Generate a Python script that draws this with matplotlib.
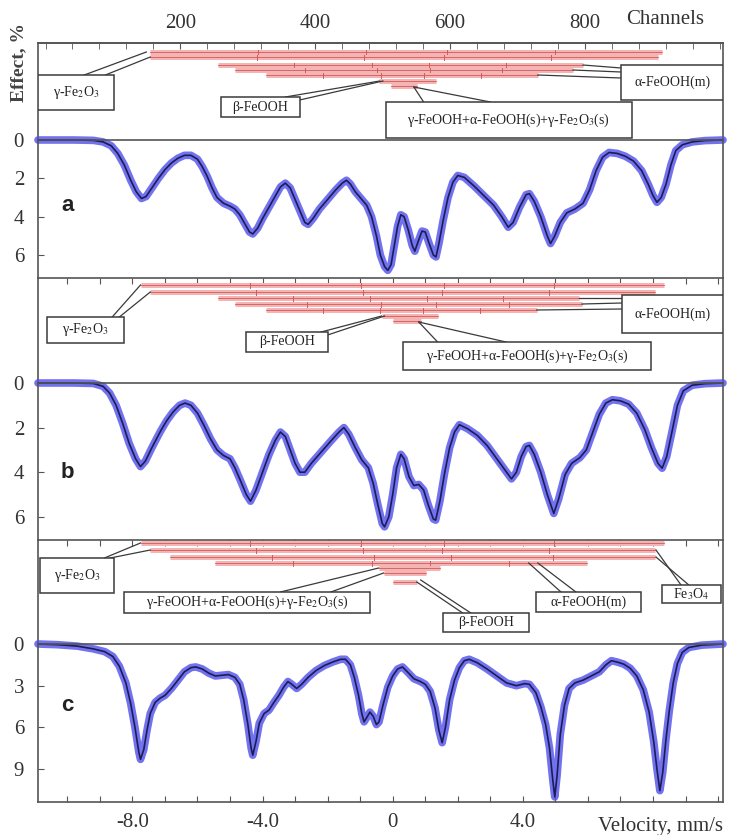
import matplotlib
matplotlib.use('Agg')
import matplotlib.pyplot as plt
from matplotlib.patches import Rectangle

plt.rcParams['font.family'] = ['Liberation Serif', 'DejaVu Serif']
plt.rcParams['mathtext.fontset'] = 'stix'

W_PX, H_PX = 732, 835
V_MIN, V_MAX = -10.9, 10.15

# spectrum a: velocity (mm/s) / effect (%)
vel_a = [-10.9, -9.8, -9.2, -8.9, -8.65, -8.45, -8.25, -8.05, -7.88, -7.72, -7.58, -7.42,
         -7.2, -7.0, -6.8, -6.6, -6.4, -6.2, -6.0, -5.85, -5.7, -5.55, -5.4, -5.2, -5.0,
         -4.85, -4.7, -4.55, -4.4, -4.3, -4.15, -4.0, -3.8, -3.6, -3.45, -3.3, -3.15, -3.0,
         -2.85, -2.7, -2.6, -2.45, -2.25, -2.0, -1.75, -1.55, -1.42, -1.3, -1.15, -0.95,
         -0.8, -0.65, -0.5, -0.38, -0.25, -0.15, -0.05, 0.05, 0.15, 0.25, 0.35, 0.48, 0.6,
         0.68, 0.78, 0.9, 1.0, 1.12, 1.25, 1.33, 1.42, 1.55, 1.7, 1.85, 2.0, 2.2, 2.5, 2.8,
         3.1, 3.35, 3.55, 3.7, 3.9, 4.1, 4.2, 4.35, 4.55, 4.75, 4.85, 4.98, 5.15, 5.35, 5.6,
         5.85, 6.05, 6.25, 6.45, 6.65, 6.9, 7.15, 7.4, 7.65, 7.85, 8.0, 8.12, 8.25, 8.4,
         8.55, 8.7, 8.9, 9.2, 9.6, 10.15]
eff_a = [0.0, 0.0, 0.02, 0.1, 0.3, 0.7, 1.3, 2.1, 2.7, 3.05, 2.95, 2.55,
         2.0, 1.55, 1.2, 0.95, 0.8, 0.8, 1.0, 1.4, 1.9, 2.5, 3.0, 3.3, 3.45,
         3.6, 3.9, 4.35, 4.8, 4.9, 4.6, 4.1, 3.5, 2.9, 2.45, 2.25, 2.5, 3.1,
         3.7, 4.3, 4.4, 4.1, 3.6, 3.1, 2.6, 2.25, 2.1, 2.3, 2.7, 3.1,
         3.4, 4.0, 5.0, 6.0, 6.6, 6.8, 6.5, 5.5, 4.5, 3.9, 4.0, 4.7, 5.5,
         5.8, 5.3, 4.75, 4.8, 5.4, 6.0, 6.1, 5.4, 4.2, 3.0, 2.2, 1.85, 1.95, 2.4, 2.9,
         3.4, 4.0, 4.55, 4.3, 3.5, 2.85, 2.8, 3.2, 4.0, 5.0, 5.4, 5.0, 4.3, 3.8, 3.6,
         3.3, 2.6, 1.6, 0.9, 0.65, 0.7, 0.85, 1.1, 1.6, 2.3, 2.9, 3.25, 3.0, 2.3,
         1.3, 0.55, 0.25, 0.1, 0.03, 0.0]

# spectrum b
vel_b = [-10.9, -9.8, -9.2, -8.9, -8.7, -8.5, -8.3, -8.1, -7.9, -7.75, -7.6, -7.4, -7.15,
         -6.95, -6.75, -6.55, -6.38, -6.2, -6.0, -5.8, -5.6, -5.4, -5.2, -5.0, -4.85, -4.7,
         -4.5, -4.37, -4.2, -4.0, -3.8, -3.6, -3.45, -3.3, -3.15, -3.0, -2.85, -2.7, -2.5,
         -2.2, -1.9, -1.65, -1.5, -1.35, -1.15, -0.95, -0.75, -0.6, -0.45, -0.32, -0.25,
         -0.12, 0.0, 0.12, 0.25, 0.35, 0.5, 0.65, 0.8, 0.95, 1.1, 1.25, 1.32, 1.45, 1.6,
         1.75, 1.9, 2.05, 2.3, 2.6, 2.9, 3.2, 3.45, 3.65, 3.8, 3.95, 4.1, 4.2, 4.35, 4.55,
         4.75, 4.95, 5.1, 5.3, 5.5, 5.75, 5.95, 6.15, 6.35, 6.55, 6.75, 7.0, 7.25, 7.5,
         7.75, 7.95, 8.15, 8.28, 8.42, 8.58, 8.75, 8.93, 9.2, 9.6, 10.15]
eff_b = [0.0, 0.0, 0.02, 0.15, 0.45, 1.0, 1.8, 2.7, 3.4, 3.75, 3.5, 2.9, 2.2,
         1.7, 1.3, 1.0, 0.9, 1.0, 1.35, 1.9, 2.5, 3.0, 3.25, 3.4, 3.8, 4.3,
         5.0, 5.3, 4.8, 4.0, 3.2, 2.55, 2.2, 2.4, 3.0, 3.6, 4.0, 4.0, 3.6,
         3.1, 2.6, 2.2, 2.0, 2.3, 2.9, 3.45, 3.8, 4.5, 5.5, 6.3, 6.45,
         6.0, 5.0, 3.8, 3.2, 3.4, 4.2, 4.6, 4.55, 4.8, 5.5, 6.1, 6.15, 5.3, 4.0,
         2.9, 2.2, 1.87, 2.05, 2.35, 2.8, 3.4, 3.9, 4.3, 4.0, 3.3, 2.85, 2.8, 3.2, 4.0,
         5.0, 5.85, 5.2, 4.1, 3.6, 3.35, 3.0, 2.2, 1.4, 0.9, 0.75, 0.8, 0.95, 1.35,
         2.1, 2.9, 3.6, 3.82, 3.3, 2.2, 1.0, 0.35, 0.1, 0.03, 0.0]

# spectrum c
vel_c = [-10.9, -10.3, -9.7, -9.2, -8.85, -8.6, -8.4, -8.2, -8.05, -7.92, -7.8, -7.75,
         -7.65, -7.55, -7.45, -7.3, -7.15, -7.0, -6.8, -6.6, -6.4, -6.2, -6.05, -5.85,
         -5.65, -5.45, -5.25, -5.05, -4.85, -4.7, -4.58, -4.45, -4.35, -4.3, -4.2, -4.1,
         -3.95, -3.8, -3.65, -3.5, -3.35, -3.22, -3.1, -2.95, -2.8, -2.6, -2.35, -2.1,
         -1.85, -1.6, -1.45, -1.3, -1.18, -1.05, -0.95, -0.88, -0.8, -0.7, -0.6, -0.5,
         -0.42, -0.3, -0.15, 0.0, 0.15, 0.3, 0.45, 0.65, 0.85, 1.0, 1.15, 1.3, 1.42, 1.52,
         1.62, 1.75, 1.9, 2.05, 2.2, 2.35, 2.6, 2.9, 3.2, 3.5, 3.8, 4.05, 4.2, 4.4, 4.55,
         4.7, 4.82, 4.92, 4.98, 5.05, 5.15, 5.28, 5.42, 5.6, 5.85, 6.1, 6.35, 6.55, 6.72,
         6.9, 7.1, 7.3, 7.5, 7.7, 7.88, 8.02, 8.12, 8.21, 8.3, 8.4, 8.5, 8.62, 8.75, 8.9,
         9.1, 9.5, 10.15]
eff_c = [0.0, 0.05, 0.15, 0.35, 0.55, 0.9, 1.6, 2.8, 4.3, 6.0, 7.8, 8.3,
         7.6, 6.2, 5.0, 4.2, 3.9, 3.7, 3.2, 2.6, 2.0, 1.7, 1.65, 1.8,
         2.1, 2.3, 2.25, 2.2, 2.4, 2.9, 4.0, 5.8, 7.5, 8.0, 7.0, 5.7,
         5.0, 4.75, 4.2, 3.7, 3.1, 2.7, 2.9, 3.2, 2.9, 2.4, 1.9, 1.55,
         1.3, 1.1, 1.1, 1.5, 2.4, 3.7, 5.0, 5.6, 5.3, 4.9, 5.2, 5.8,
         5.6, 4.4, 3.1, 2.3, 1.8, 1.65, 2.0, 2.5, 2.7, 2.9, 3.4, 4.6, 6.2, 7.1,
         6.0, 4.0, 2.6, 1.7, 1.2, 1.1, 1.35, 1.8, 2.3, 2.8, 3.0, 2.85, 2.9, 3.5, 4.5,
         5.8, 7.5, 9.8, 11.0, 9.5, 6.5, 4.4, 3.2, 2.8, 2.6, 2.3, 2.0, 1.5, 1.2,
         1.3, 1.45, 1.75, 2.3, 3.3, 4.9, 7.0, 9.0, 10.55, 9.2, 6.8, 4.8, 2.8, 1.4, 0.6,
         0.25, 0.08, 0.0]

# stick diagrams: line positions (mm/s) of every sub-spectrum, top row first
sticks_a = [[-7.45, -4.15, -0.83, 1.66, 4.98, 8.28],
            [-7.45, -4.17, -0.88, 1.58, 4.87, 8.15],
            [-5.38, -3.02, -0.65, 1.12, 3.49, 5.85],
            [-4.86, -2.68, -0.48, 1.16, 3.36, 5.54],
            [-3.88, -2.13, -0.37, 0.95, 2.71, 4.46],
            [-0.43, 1.32],
            [-0.06, 0.74]]
sticks_b = [[-7.75, -4.37, -0.98, 1.57, 4.96, 8.34],
            [-7.45, -4.19, -0.92, 1.53, 4.80, 8.06],
            [-5.38, -3.05, -0.71, 1.05, 3.39, 5.72],
            [-4.86, -2.62, -0.36, 1.32, 3.58, 5.82],
            [-3.88, -2.14, -0.38, 0.93, 2.69, 4.43],
            [-0.34, 1.38],
            [0.0, 0.86]]
sticks_c = [[-7.75, -4.37, -0.98, 1.57, 4.96, 8.34],
            [-7.45, -4.19, -0.92, 1.53, 4.80, 8.06],
            [-6.83, -3.70, -0.56, 1.79, 4.93, 8.06],
            [-5.45, -3.05, -0.64, 1.16, 3.57, 5.97],
            [-0.43, 1.45],
            [-0.28, 1.02],
            [0.0, 0.74]]

yticks_ab = [0, 2, 4, 6]
yticks_c = [0, 3, 6, 9]
vel_ticks = [-8, -4, 0, 4]
vel_labels = ['-8.0', '-4.0', '0', '4.0']
chan_ticks = [200, 400, 600, 800]

BLUE = '#4f4fec'
NAVY = '#1c1c55'
PINK = '#f4b4b4'
RED = '#d25a5a'
GREY = '#555555'
BOX = '#3a3a3a'

fig = plt.figure(figsize=(W_PX / 100, H_PX / 100), dpi=100)


def panel(top, bottom):
    return fig.add_axes([38 / W_PX, 1 - bottom / H_PX, 685 / W_PX, (bottom - top) / H_PX])


def frame(ax):
    ax.set_xlim(V_MIN, V_MAX)
    for s in ax.spines.values():
        s.set_color(GREY)
        s.set_linewidth(1.2)


def draw_sticks(ax, rows, offsets, height, top_ticks=True):
    frame(ax)
    ax.set_ylim(height, 0)
    ax.spines['bottom'].set_visible(False)
    ax.set_yticks([])
    if top_ticks:
        ax.xaxis.set_ticks_position('top')
        ax.set_xticks(range(-10, 11))
        ax.tick_params(axis='x', direction='in', length=4, color=GREY, labeltop=False)
    else:
        ax.set_xticks([])
    for lines, y in zip(rows, offsets):
        ax.plot([lines[0], lines[-1]], [y, y], color=PINK, lw=3.6, solid_capstyle='butt')
        ax.plot([lines[0], lines[-1]], [y, y], color=RED, lw=0.6)
        for p in lines[1:-1]:
            ax.plot([p, p], [y - 2.5, y + 2.5], color=RED, lw=0.7)


def callout(ax, text, x0, x1, y0, y1, legs):
    for (xa, ya), (xb, yb) in legs:
        ax.plot([xa, xb], [ya, yb], color=BOX, lw=0.9, zorder=2)
    ax.add_patch(Rectangle((x0, y0), x1 - x0, y1 - y0, fc='white', ec=BOX, lw=1.1, zorder=3))
    ax.text((x0 + x1) / 2, (y0 + y1) / 2, text, ha='center', va='center',
            fontsize=10, color='#222222', zorder=4)


def draw_spectrum(ax, vel, eff, ymax, yticks, letter, letter_y):
    frame(ax)
    ax.set_facecolor('none')
    ax.set_ylim(ymax, 0)
    ax.plot(vel, eff, color=BLUE, lw=5.5, alpha=0.8, clip_on=False,
            solid_joinstyle='round', solid_capstyle='round')
    ax.plot(vel, eff, color=NAVY, lw=1.2, clip_on=False)
    ax.set_yticks(yticks)
    ax.set_yticklabels([str(t) for t in yticks])
    ax.tick_params(axis='y', direction='in', length=4, color=GREY, labelsize=15,
                   pad=10, labelcolor='#333333')
    ax.text(-10.0, letter_y, letter, fontsize=16, weight='bold',
            family='Liberation Sans', color='#222222', ha='center', va='center')


# sticks, panel a (with channel scale on top)
ax_sa = panel(43, 140)
draw_sticks(ax_sa, sticks_a, [9, 14, 22, 27, 32, 38, 43], 97, top_ticks=False)
chan = ax_sa.secondary_xaxis('top', functions=(lambda v: 515 + 48.27 * v,
                                               lambda c: (c - 515) / 48.27))
chan.set_xticks(chan_ticks)
chan.set_xticks(range(0, 1001, 40), minor=True)
chan.tick_params(which='both', direction='in', length=4, color=GREY,
                 labelsize=15, pad=7, labelcolor='#333333')
chan.spines['top'].set_color(GREY)
chan.spines['top'].set_linewidth(1.2)
callout(ax_sa, r'γ-Fe$_2$O$_3$', -10.9, -8.55, 32, 67,
        [((-9.48, 32), (-7.57, 9)), ((-8.83, 32), (-7.45, 14))])
callout(ax_sa, 'β-FeOOH', -5.29, -2.86, 54, 74,
        [((-3.3, 54), (-0.4, 38)), ((-2.86, 57), (-0.3, 38))])
callout(ax_sa, r'γ-FeOOH+α-FeOOH(s)+γ-Fe$_2$O$_3$(s)', -0.22, 7.35, 59, 95,
        [((0.95, 59), (0.65, 44)), ((3.0, 59), (0.65, 44))])
callout(ax_sa, 'α-FeOOH(m)', 7.02, 10.15, 22, 57,
        [((7.02, 25), (5.85, 22)), ((7.02, 29), (5.54, 27)), ((7.02, 35), (4.46, 32))])

# sticks, panel b
ax_sb = panel(278, 383)
draw_sticks(ax_sb, sticks_b, [7, 14, 20, 26, 32, 38, 43], 105)
callout(ax_sb, r'γ-Fe$_2$O$_3$', -10.62, -8.25, 39, 65,
        [((-8.62, 39), (-7.75, 7)), ((-8.4, 39), (-7.45, 14))])
callout(ax_sb, 'β-FeOOH', -4.52, -2.0, 54, 74,
        [((-2.2, 54), (-0.34, 38)), ((-2.0, 57), (-0.25, 38))])
callout(ax_sb, r'γ-FeOOH+α-FeOOH(s)+γ-Fe$_2$O$_3$(s)', 0.31, 7.94, 64, 92,
        [((1.38, 64), (0.8, 44)), ((3.48, 64), (0.8, 44))])
callout(ax_sb, 'α-FeOOH(m)', 7.05, 10.15, 17, 55,
        [((7.05, 20), (5.72, 20)), ((7.05, 25), (5.82, 26)), ((7.05, 31), (4.43, 32))])

# sticks, panel c
ax_sc = panel(540, 644)
draw_sticks(ax_sc, sticks_c, [3, 10, 17, 23, 28, 33, 42], 104)
callout(ax_sc, r'γ-Fe$_2$O$_3$', -10.83, -8.55, 18, 53,
        [((-8.86, 18), (-7.75, 3)), ((-8.68, 18), (-7.45, 10))])
callout(ax_sc, r'γ-FeOOH+α-FeOOH(s)+γ-Fe$_2$O$_3$(s)', -8.25, -0.71, 52, 73,
        [((-3.45, 52), (-0.43, 28)), ((-1.9, 52), (-0.28, 33))])
callout(ax_sc, 'β-FeOOH', 1.54, 4.18, 73, 92,
        [((0.74, 42), (2.15, 73)), ((0.86, 40), (2.4, 73))])
callout(ax_sc, 'α-FeOOH(m)', 4.4, 7.63, 52, 72,
        [((4.18, 23), (5.17, 52)), ((4.46, 23), (5.63, 52))])
callout(ax_sc, r'Fe$_3$O$_4$', 8.28, 10.09, 45, 63,
        [((8.09, 10), (8.86, 45)), ((8.09, 17), (9.1, 45))])

# spectra
ax_a = panel(140, 278)
draw_spectrum(ax_a, vel_a, eff_a, 138 / 19.17, yticks_ab, 'a', 3.4)
ax_a.spines['bottom'].set_visible(False)
ax_a.set_xticks([])

ax_b = panel(383, 540)
draw_spectrum(ax_b, vel_b, eff_b, 157 / 22.3, yticks_ab, 'b', 4.0)
ax_b.spines['bottom'].set_visible(False)
ax_b.set_xticks([])

ax_c = panel(644, 802)
draw_spectrum(ax_c, vel_c, eff_c, 158 / 13.9, yticks_c, 'c', 4.4)
ax_c.set_xticks(range(-10, 11))
ax_c.set_xticklabels([vel_labels[vel_ticks.index(t)] if t in vel_ticks else ''
                      for t in range(-10, 11)])
ax_c.tick_params(axis='x', direction='in', length=4, color=GREY, labelsize=15,
                 pad=8, labelcolor='#333333')

fig.text(665 / W_PX, 1 - 20 / H_PX, 'Channels', ha='center', va='center',
         fontsize=15, color='#333333')
fig.text(19 / W_PX, 1 - 62 / H_PX, 'Effect, %', rotation=90, ha='center', va='center',
         fontsize=14, weight='bold', color='#444444')
fig.text(660 / W_PX, 1 - 826 / H_PX, 'Velocity, mm/s', ha='center', va='center',
         fontsize=15, color='#333333')

fig.savefig('out.png', dpi=100)
